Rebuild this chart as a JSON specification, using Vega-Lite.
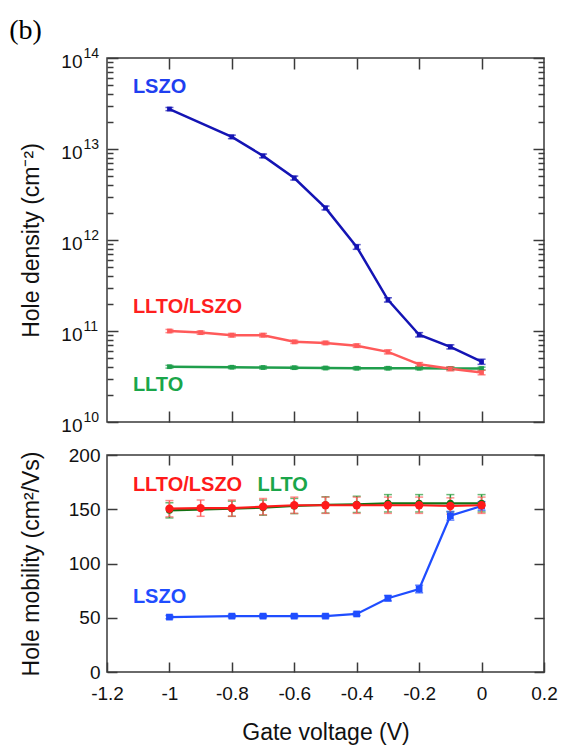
{
  "$schema": "https://vega.github.io/schema/vega-lite/v6.json",
  "padding": {"left": 9, "top": 17, "right": 5, "bottom": 0},
  "bounds": "flush",
  "spacing": 33,
  "title": {"text": "(b)", "anchor": "start", "frame": "bounds", "font": "Liberation Serif", "fontSize": 28, "fontWeight": "normal", "color": "#000", "offset": 0, "dx": -10},
  "datasets": {
    "density": [
      {"s": "LLTO", "v": -1, "n": 4.05e10, "e": 1.4e9},
      {"s": "LLTO", "v": -0.8, "n": 4.0e10, "e": 1.4e9},
      {"s": "LLTO", "v": -0.7, "n": 3.97e10, "e": 1.4e9},
      {"s": "LLTO", "v": -0.6, "n": 3.95e10, "e": 1.4e9},
      {"s": "LLTO", "v": -0.5, "n": 3.92e10, "e": 1.4e9},
      {"s": "LLTO", "v": -0.4, "n": 3.9e10, "e": 1.4e9},
      {"s": "LLTO", "v": -0.3, "n": 3.9e10, "e": 1.4e9},
      {"s": "LLTO", "v": -0.2, "n": 3.9e10, "e": 1.4e9},
      {"s": "LLTO", "v": -0.1, "n": 3.88e10, "e": 1.4e9},
      {"s": "LLTO", "v": 0, "n": 3.87e10, "e": 1.4e9},
      {"s": "LLTO/LSZO", "v": -1, "n": 1.0e11, "e": 4e9},
      {"s": "LLTO/LSZO", "v": -0.9, "n": 9.6e10, "e": 4e9},
      {"s": "LLTO/LSZO", "v": -0.8, "n": 9.0e10, "e": 4e9},
      {"s": "LLTO/LSZO", "v": -0.7, "n": 9.0e10, "e": 4e9},
      {"s": "LLTO/LSZO", "v": -0.6, "n": 7.6e10, "e": 3e9},
      {"s": "LLTO/LSZO", "v": -0.5, "n": 7.4e10, "e": 3e9},
      {"s": "LLTO/LSZO", "v": -0.4, "n": 6.9e10, "e": 3e9},
      {"s": "LLTO/LSZO", "v": -0.3, "n": 5.9e10, "e": 3e9},
      {"s": "LLTO/LSZO", "v": -0.2, "n": 4.3e10, "e": 2e9},
      {"s": "LLTO/LSZO", "v": -0.1, "n": 3.85e10, "e": 2e9},
      {"s": "LLTO/LSZO", "v": 0, "n": 3.5e10, "e": 2e9},
      {"s": "LSZO", "v": -1, "n": 2.75e13, "e": 1.1e12},
      {"s": "LSZO", "v": -0.8, "n": 1.36e13, "e": 6e11},
      {"s": "LSZO", "v": -0.7, "n": 8.4e12, "e": 4e11},
      {"s": "LSZO", "v": -0.6, "n": 4.8e12, "e": 2.4e11},
      {"s": "LSZO", "v": -0.5, "n": 2.25e12, "e": 1.1e11},
      {"s": "LSZO", "v": -0.4, "n": 8.4e11, "e": 5e10},
      {"s": "LSZO", "v": -0.3, "n": 2.2e11, "e": 1.2e10},
      {"s": "LSZO", "v": -0.2, "n": 9.1e10, "e": 5e9},
      {"s": "LSZO", "v": -0.1, "n": 6.7e10, "e": 3.5e9},
      {"s": "LSZO", "v": 0, "n": 4.6e10, "e": 3e9}
    ],
    "mobility": [
      {"s": "LLTO", "v": -1, "mu": 149, "e": 7},
      {"s": "LLTO", "v": -0.8, "mu": 150.5, "e": 7},
      {"s": "LLTO", "v": -0.7, "mu": 151.5, "e": 7},
      {"s": "LLTO", "v": -0.6, "mu": 153, "e": 7},
      {"s": "LLTO", "v": -0.5, "mu": 154, "e": 7.5},
      {"s": "LLTO", "v": -0.4, "mu": 154.5, "e": 7.5},
      {"s": "LLTO", "v": -0.3, "mu": 155.5, "e": 8},
      {"s": "LLTO", "v": -0.2, "mu": 155.5, "e": 8},
      {"s": "LLTO", "v": -0.1, "mu": 155.5, "e": 8},
      {"s": "LLTO", "v": 0, "mu": 155.5, "e": 8},
      {"s": "LLTO/LSZO", "v": -1, "mu": 150.5, "e": 7.5},
      {"s": "LLTO/LSZO", "v": -0.9, "mu": 151, "e": 7.5},
      {"s": "LLTO/LSZO", "v": -0.8, "mu": 151, "e": 7.5},
      {"s": "LLTO/LSZO", "v": -0.7, "mu": 152.4, "e": 7.5},
      {"s": "LLTO/LSZO", "v": -0.6, "mu": 153.7, "e": 7.5},
      {"s": "LLTO/LSZO", "v": -0.5, "mu": 153.7, "e": 7.5},
      {"s": "LLTO/LSZO", "v": -0.4, "mu": 153.7, "e": 7.5},
      {"s": "LLTO/LSZO", "v": -0.3, "mu": 153.7, "e": 7.5},
      {"s": "LLTO/LSZO", "v": -0.2, "mu": 153.7, "e": 7.5},
      {"s": "LLTO/LSZO", "v": -0.1, "mu": 153, "e": 7.5},
      {"s": "LLTO/LSZO", "v": 0, "mu": 153.7, "e": 7.5},
      {"s": "LSZO", "v": -1, "mu": 50.6, "e": 1.5},
      {"s": "LSZO", "v": -0.8, "mu": 51.5, "e": 1.5},
      {"s": "LSZO", "v": -0.7, "mu": 51.5, "e": 1.5},
      {"s": "LSZO", "v": -0.6, "mu": 51.5, "e": 1.5},
      {"s": "LSZO", "v": -0.5, "mu": 51.5, "e": 1.5},
      {"s": "LSZO", "v": -0.4, "mu": 53.5, "e": 1.5},
      {"s": "LSZO", "v": -0.3, "mu": 68, "e": 2.5},
      {"s": "LSZO", "v": -0.2, "mu": 76.5, "e": 3.5},
      {"s": "LSZO", "v": -0.1, "mu": 144, "e": 4},
      {"s": "LSZO", "v": 0, "mu": 153, "e": 4}
    ],
    "labelsTop": [
      {"label": "LSZO", "v": -1.117, "n": 4.8e13},
      {"label": "LLTO/LSZO", "v": -1.117, "n": 1.83e11},
      {"label": "LLTO", "v": -1.117, "n": 2.54e10}
    ],
    "labelsBottom": [
      {"label": "LLTO/LSZO", "v": -1.117, "mu": 172.4},
      {"label": "LLTO", "v": -0.718, "mu": 172.4},
      {"label": "LSZO", "v": -1.117, "mu": 69.3}
    ]
  },
  "vconcat": [
    {
      "width": 437,
      "height": 364,
      "layer": [
        {
          "data": {"name": "density"},
          "mark": {"type": "line", "strokeWidth": 2.5},
          "encoding": {
            "x": {"field": "v", "type": "quantitative", "scale": {"domain": [-1.2, 0.2], "nice": false, "zero": false},
                  "axis": {"orient": "bottom", "values": [-1, -0.8, -0.6, -0.4, -0.2, 0], "labels": false, "tickSize": -11, "title": null}},
            "y": {"field": "n", "type": "quantitative", "scale": {"type": "log", "domain": [1e10, 1e14], "nice": false},
                  "axis": {"orient": "left", "values": [1e10, 1e11, 1e12, 1e13, 1e14], "tickSize": -11, "labelPadding": 36, "labelOffset": 3, "labelFlush": false,
                           "labelExpr": "'10'",
                           "title": "Hole density (cm⁻²)", "titleX": -69, "titleBaseline": "alphabetic"}},
            "color": {"field": "s", "type": "nominal", "scale": {"domain": ["LSZO", "LLTO/LSZO", "LLTO"], "range": ["#1414b4", "#ff5a5a", "#1f9e4c"]}, "legend": null}
          }
        },
        {
          "data": {"name": "density"},
          "mark": {"type": "errorbar", "ticks": true, "size": 8, "thickness": 1.5},
          "encoding": {
            "x": {"field": "v", "type": "quantitative", "axis": null},
            "y": {"field": "n", "type": "quantitative", "axis": null},
            "yError": {"field": "e"},
            "color": {"field": "s", "type": "nominal", "scale": {"domain": ["LSZO", "LLTO/LSZO", "LLTO"], "range": ["#1414b4", "#ff5a5a", "#1f9e4c"]}, "legend": null}
          }
        },
        {
          "data": {"name": "density"},
          "mark": {"type": "square", "filled": true, "size": 22, "opacity": 1},
          "encoding": {
            "x": {"field": "v", "type": "quantitative", "axis": null},
            "y": {"field": "n", "type": "quantitative", "axis": null},
            "color": {"field": "s", "type": "nominal", "scale": {"domain": ["LSZO", "LLTO/LSZO", "LLTO"], "range": ["#1414b4", "#ff5a5a", "#1f9e4c"]}, "legend": null}
          }
        },
        {
          "data": {"name": "density"},
          "mark": {"type": "point", "opacity": 0},
          "encoding": {
            "x": {"field": "v", "type": "quantitative", "axis": {"orient": "top", "values": [-1, -0.8, -0.6, -0.4, -0.2, 0], "labels": false, "tickSize": -11, "title": null}},
            "y": {"field": "n", "type": "quantitative", "axis": {"orient": "right", "values": [1e10, 1e11, 1e12, 1e13, 1e14], "labels": false, "tickSize": -11, "title": null}}
          }
        },
        {
          "data": {"name": "density"},
          "mark": {"type": "point", "opacity": 0},
          "encoding": {
            "x": {"field": "v", "type": "quantitative", "axis": null},
            "y": {"field": "n", "type": "quantitative", "axis": {"orient": "left", "values": [1e10, 1e11, 1e12, 1e13, 1e14], "ticks": false, "labelAlign": "left", "labelBaseline": "middle", "labelFontSize": 14, "labelPadding": 24, "labelOffset": -5, "labelFlush": false,
                  "labelExpr": "datum.value >= 9e13 ? '14' : datum.value >= 9e12 ? '13' : datum.value >= 9e11 ? '12' : datum.value >= 9e10 ? '11' : '10'", "title": null}}
          }
        },
        {
          "data": {"name": "density"},
          "mark": {"type": "point", "opacity": 0},
          "encoding": {
            "x": {"field": "v", "type": "quantitative", "axis": null},
            "y": {"field": "n", "type": "quantitative", "axis": {"orient": "left", "labels": false, "tickSize": -6, "title": null,
              "values": [2e10, 3e10, 4e10, 5e10, 6e10, 7e10, 8e10, 9e10, 2e11, 3e11, 4e11, 5e11, 6e11, 7e11, 8e11, 9e11, 2e12, 3e12, 4e12, 5e12, 6e12, 7e12, 8e12, 9e12, 2e13, 3e13, 4e13, 5e13, 6e13, 7e13, 8e13, 9e13]}}
          }
        },
        {
          "data": {"name": "density"},
          "mark": {"type": "point", "opacity": 0},
          "encoding": {
            "x": {"field": "v", "type": "quantitative", "axis": null},
            "y": {"field": "n", "type": "quantitative", "axis": {"orient": "right", "labels": false, "tickSize": -6, "title": null,
              "values": [2e10, 3e10, 4e10, 5e10, 6e10, 7e10, 8e10, 9e10, 2e11, 3e11, 4e11, 5e11, 6e11, 7e11, 8e11, 9e11, 2e12, 3e12, 4e12, 5e12, 6e12, 7e12, 8e12, 9e12, 2e13, 3e13, 4e13, 5e13, 6e13, 7e13, 8e13, 9e13]}}
          }
        },
        {
          "data": {"name": "labelsTop"},
          "mark": {"type": "text", "align": "left", "baseline": "middle", "fontSize": 20, "fontWeight": "bold", "font": "Liberation Sans"},
          "encoding": {
            "x": {"field": "v", "type": "quantitative", "axis": null},
            "y": {"field": "n", "type": "quantitative", "axis": null},
            "text": {"field": "label"},
            "color": {"field": "label", "type": "nominal", "scale": {"domain": ["LSZO", "LLTO/LSZO", "LLTO"], "range": ["#1f3ff0", "#ff1f1f", "#1aa64a"]}, "legend": null}
          }
        }
      ],
      "resolve": {"axis": {"x": "independent", "y": "independent"}, "scale": {"color": "independent"}}
    },
    {
      "width": 437,
      "height": 217,
      "layer": [
        {
          "data": {"name": "mobility"},
          "mark": {"type": "errorbar", "ticks": true, "size": 8, "thickness": 1.5},
          "encoding": {
            "x": {"field": "v", "type": "quantitative", "scale": {"domain": [-1.2, 0.2], "nice": false, "zero": false},
                  "axis": {"orient": "bottom", "values": [-1.2, -1, -0.8, -0.6, -0.4, -0.2, 0, 0.2], "tickSize": -10, "labelPadding": 22, "labelFlush": false,
                           "labelExpr": "'' + datum.value", "title": "Gate voltage (V)", "titleY": 67, "titleBaseline": "alphabetic"}},
            "y": {"field": "mu", "type": "quantitative", "scale": {"domain": [0, 200], "nice": false},
                  "axis": {"orient": "left", "values": [0, 50, 100, 150, 200], "tickSize": -10, "labelPadding": 17, "labelFlush": false,
                           "title": "Hole mobility (cm²/Vs)", "titleX": -69, "titleBaseline": "alphabetic"}},
            "yError": {"field": "e"},
            "color": {"field": "s", "type": "nominal", "scale": {"domain": ["LSZO", "LLTO/LSZO", "LLTO"], "range": ["#1f4dff", "#ff5c5c", "#2a9a3a"]}, "legend": null}
          }
        },
        {
          "data": {"name": "mobility"},
          "mark": {"type": "line", "strokeWidth": 2.2},
          "encoding": {
            "x": {"field": "v", "type": "quantitative", "axis": null},
            "y": {"field": "mu", "type": "quantitative", "axis": null},
            "color": {"field": "s", "type": "nominal", "scale": {"domain": ["LSZO", "LLTO/LSZO", "LLTO"], "range": ["#1f4dff", "#ff1a1a", "#137213"]}, "legend": null}
          }
        },
        {
          "data": {"name": "mobility"},
          "transform": [{"filter": "datum.s == 'LSZO'"}],
          "mark": {"type": "square", "filled": true, "size": 45, "opacity": 1, "color": "#1f4dff"},
          "encoding": {
            "x": {"field": "v", "type": "quantitative", "axis": null},
            "y": {"field": "mu", "type": "quantitative", "axis": null}
          }
        },
        {
          "data": {"name": "mobility"},
          "transform": [{"filter": "datum.s == 'LLTO'"}],
          "mark": {"type": "circle", "size": 50, "opacity": 1, "color": "#137213"},
          "encoding": {
            "x": {"field": "v", "type": "quantitative", "axis": null},
            "y": {"field": "mu", "type": "quantitative", "axis": null}
          }
        },
        {
          "data": {"name": "mobility"},
          "transform": [{"filter": "datum.s == 'LLTO/LSZO'"}],
          "mark": {"type": "circle", "size": 70, "opacity": 1, "color": "#ff1a1a"},
          "encoding": {
            "x": {"field": "v", "type": "quantitative", "axis": null},
            "y": {"field": "mu", "type": "quantitative", "axis": null}
          }
        },
        {
          "data": {"name": "mobility"},
          "mark": {"type": "point", "opacity": 0},
          "encoding": {
            "x": {"field": "v", "type": "quantitative", "axis": {"orient": "top", "values": [-1, -0.8, -0.6, -0.4, -0.2, 0], "labels": false, "tickSize": -10, "title": null}},
            "y": {"field": "mu", "type": "quantitative", "axis": {"orient": "right", "values": [0, 50, 100, 150, 200], "labels": false, "tickSize": -10, "title": null}}
          }
        },
        {
          "data": {"name": "labelsBottom"},
          "mark": {"type": "text", "align": "left", "baseline": "middle", "fontSize": 20, "fontWeight": "bold", "font": "Liberation Sans"},
          "encoding": {
            "x": {"field": "v", "type": "quantitative", "axis": null},
            "y": {"field": "mu", "type": "quantitative", "axis": null},
            "text": {"field": "label"},
            "color": {"field": "label", "type": "nominal", "scale": {"domain": ["LSZO", "LLTO/LSZO", "LLTO"], "range": ["#1f4dff", "#ff1a1a", "#1aa64a"]}, "legend": null}
          }
        }
      ],
      "resolve": {"axis": {"x": "independent", "y": "independent"}, "scale": {"color": "independent"}}
    }
  ],
  "resolve": {"scale": {"color": "independent"}},
  "config": {
    "font": "Liberation Sans",
    "view": {"stroke": "#3a3a3a", "strokeWidth": 1.5},
    "axis": {"domain": false, "grid": false, "tickColor": "#3a3a3a", "tickWidth": 1.5, "labelColor": "#111", "labelFont": "Liberation Sans", "labelFontSize": 19, "titleFont": "Liberation Sans", "titleFontSize": 23, "titleFontWeight": "normal", "titleColor": "#111"}
  }
}
